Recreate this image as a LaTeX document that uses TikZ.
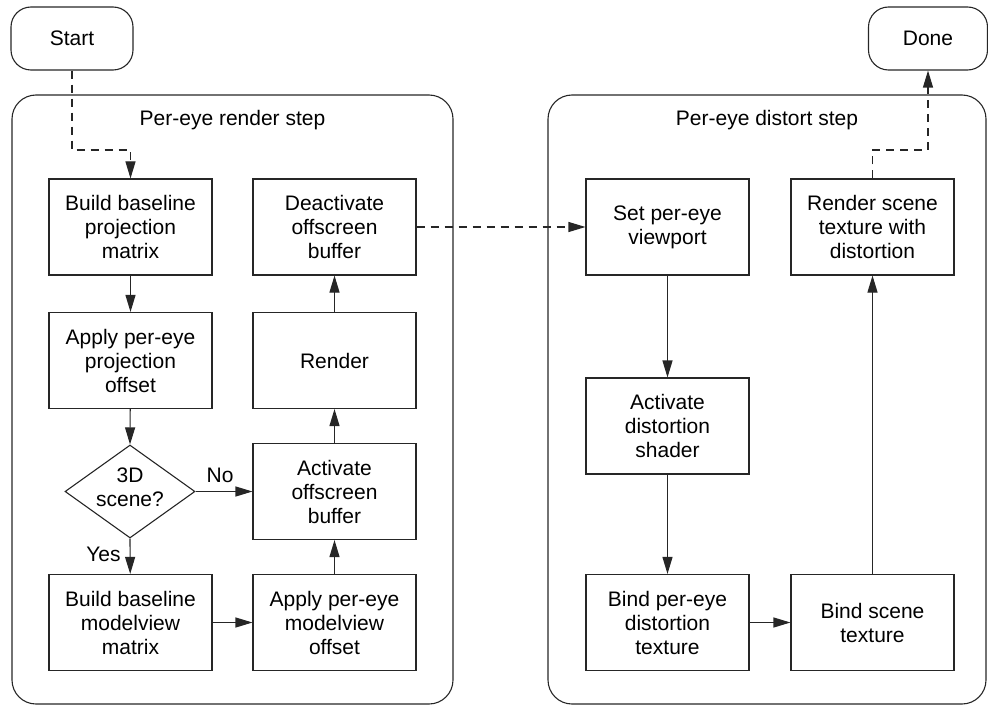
\documentclass[tikz,border=0pt]{standalone}
\usepackage{fontspec}
\setmainfont{Liberation Sans}
\usetikzlibrary{arrows.meta,shapes.geometric}
\begin{document}
\begin{tikzpicture}[x=1pt,y=-1pt,
  every node/.style={font=\fontsize{21}{24}\selectfont, text=black},
  procbox/.style={draw=black!85, line width=1.1pt, minimum width=163pt, minimum height=96pt, align=center, inner sep=0pt},
  termbox/.style={draw=black!85, line width=1.1pt, rounded corners=20pt, minimum width=122pt, minimum height=63pt, inner sep=0pt},
  decbox/.style={draw=black!85, diamond, line width=1.1pt, minimum width=130pt, minimum height=93pt, inner sep=0pt},
  groupbox/.style={draw=black!85, line width=1.1pt, rounded corners=24pt},
  flow/.style={draw=black!85, line width=1.1pt, -{Triangle[length=17pt,width=10pt]}},
  dflow/.style={flow, dash pattern=on 8pt off 6pt},
  lbl/.style={inner sep=0pt, align=center}
]
\useasboundingbox (0,0) rectangle (988,706);
% containers
\draw[groupbox] (12,95) rectangle (453,704);
\draw[groupbox] (548,95) rectangle (986,704);
\node[lbl] (lblL) at (232.5,120) {Per-eye render step};
\node[lbl] (lblR) at (767,120) {Per-eye distort step};
% terminals
\node[termbox] (start) at (72,38.5) {Start};
\node[termbox, minimum width=119pt] (done) at (928,38.5) {Done};
% left group
\node[procbox] (bbp) at (130.5,227) {Build baseline\\projection\\matrix};
\node[procbox] (appo) at (130.5,360.5) {Apply per-eye\\projection\\offset};
\node[decbox] (dia) at (130,491.5) {};
\node[lbl] (diat) at (130,487) {3D\\scene?};
\node[procbox] (bbm) at (130.5,622.5) {Build baseline\\modelview\\matrix};
\node[procbox] (deact) at (334.5,227) {Deactivate\\offscreen\\buffer};
\node[procbox] (render) at (334.5,360.5) {Render};
\node[procbox] (aob) at (334.5,491.5) {Activate\\offscreen\\buffer};
\node[procbox] (apmo) at (334.5,622.5) {Apply per-eye\\modelview\\offset};
% right group
\node[procbox] (setvp) at (667.5,227) {Set per-eye\\viewport};
\node[procbox] (ads) at (667.5,426) {Activate\\distortion\\shader};
\node[procbox] (bpdt) at (667.5,622.5) {Bind per-eye\\distortion\\texture};
\node[procbox] (rstwd) at (872.5,227) {Render scene\\texture with\\distortion};
\node[procbox] (bst) at (872.5,622.5) {Bind scene\\texture};
% bend coordinates
\coordinate (k1) at (0,150);
% connectors
\draw[dflow] (start.south) |- (bbp.north |- k1) -- (bbp.north);
\draw[flow] (bbp) -- (appo);
\draw[flow] (appo) -- (dia.north);
\draw[flow] (dia.south) -- node[lbl, left=9pt, pos=0.46] (yes) {Yes} (bbm);
\draw[flow] (dia.east) -- node[lbl, above=8pt, pos=0.43] (no) {No} (aob.west |- dia.east);
\draw[flow] (bbm) -- (apmo);
\draw[flow] (apmo) -- (aob);
\draw[flow] (aob) -- (render);
\draw[flow] (render) -- (deact);
\draw[dflow] (deact.east) -- (setvp.west);
\draw[flow] (setvp) -- (ads);
\draw[flow] (ads) -- (bpdt);
\draw[flow] (bpdt) -- (bst);
\draw[flow] (bst) -- (rstwd);
\draw[dflow] (rstwd.north) |- (done.south |- k1) -- (done.south);
\end{tikzpicture}
\end{document}
